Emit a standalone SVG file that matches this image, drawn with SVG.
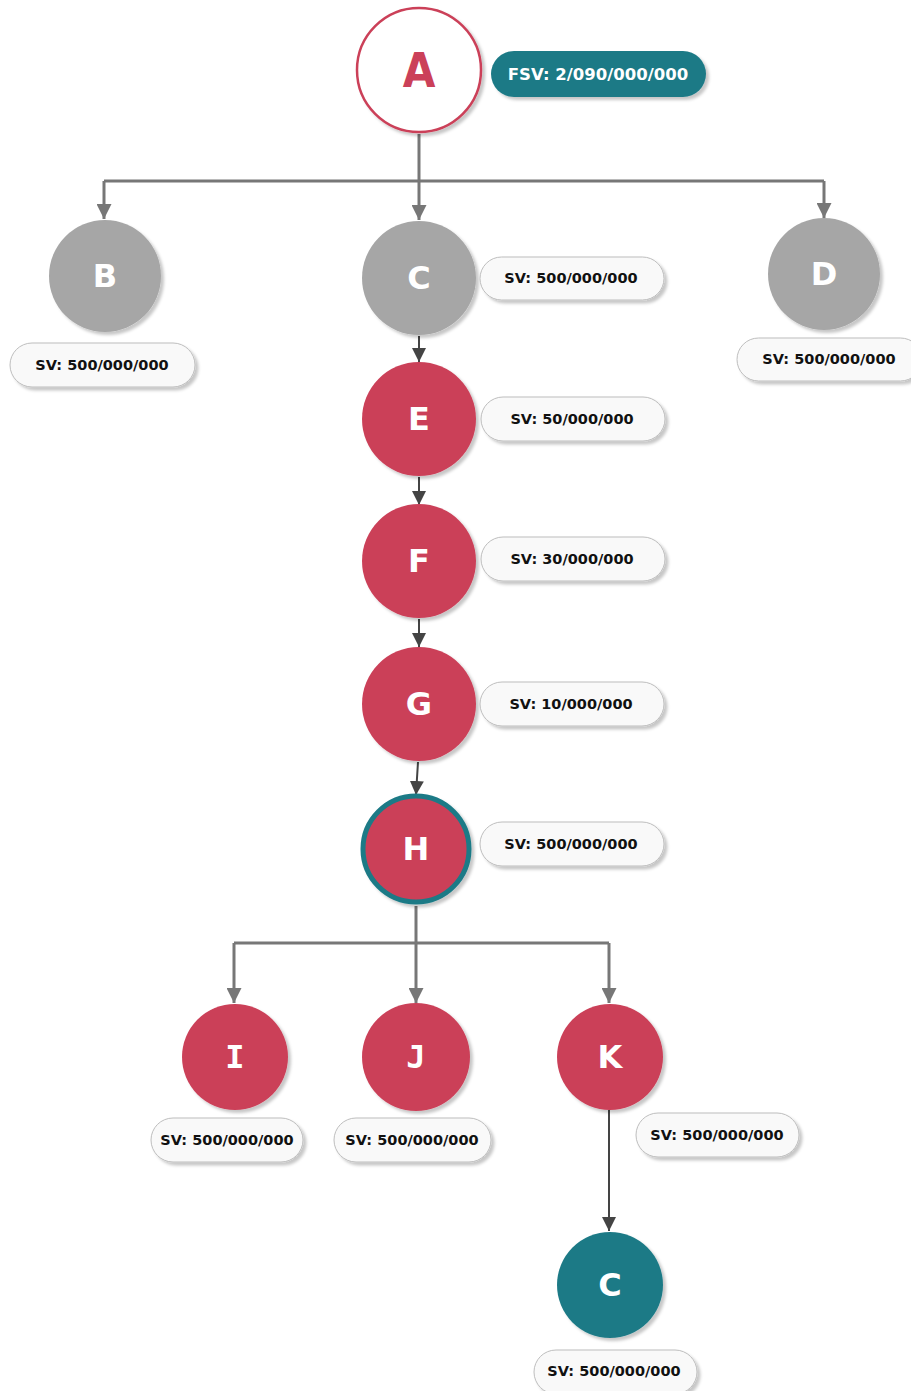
<svg xmlns="http://www.w3.org/2000/svg" width="911" height="1391" viewBox="0 0 911 1391">
  <defs>
    <filter id="shadow" x="-20%" y="-20%" width="150%" height="150%">
      <feDropShadow dx="3" dy="3" stdDeviation="1.5" flood-color="#000" flood-opacity="0.22"/>
    </filter>
    <marker id="arrGray" viewBox="0 0 10 10" refX="10" refY="5" markerWidth="5" markerHeight="5" markerUnits="strokeWidth" orient="auto">
      <path d="M0,0 L10,5 L0,10 z" fill="#777"/>
    </marker>
    <marker id="arrDark" viewBox="0 0 10 10" refX="10" refY="5" markerWidth="7" markerHeight="7" markerUnits="strokeWidth" orient="auto">
      <path d="M0,0 L10,5 L0,10 z" fill="#444"/>
    </marker>
  </defs>
  <style>
    .grey { fill: #a6a6a6; filter: url(#shadow); }
    .red { fill: #cb4059; filter: url(#shadow); }
    .teal { fill: #1d7a86; filter: url(#shadow); }
    .letter { font-family: "DejaVu Sans", Verdana, sans-serif; font-weight: bold; font-size: 32px; fill: #fff; text-anchor: middle; dominant-baseline: central; }
    .slab { font-family: "DejaVu Sans Mono", monospace; }
    .pill { fill: #f9f9f9; stroke: #bdbdbd; stroke-width: 1; filter: url(#shadow); }
    .sv { font-family: "DejaVu Sans", Verdana, sans-serif; font-weight: bold; font-size: 14.5px; fill: #111; text-anchor: middle; dominant-baseline: central; }
    .tree { fill: none; stroke: #777; stroke-width: 3; }
    .chain { fill: none; stroke: #444; stroke-width: 2; }
  </style>

  <g id="connectors">
    <!-- A fan-out -->
    <path class="tree" d="M419,134 V181"/>
    <path class="tree" d="M104,181 H824"/>
    <path class="tree" d="M104,181 V219" marker-end="url(#arrGray)"/>
    <path class="tree" d="M419,181 V220" marker-end="url(#arrGray)"/>
    <path class="tree" d="M824,181 V218" marker-end="url(#arrGray)"/>
    <!-- vertical chain -->
    <path class="chain" d="M419,336 V362" marker-end="url(#arrDark)"/>
    <path class="chain" d="M419,477 V505" marker-end="url(#arrDark)"/>
    <path class="chain" d="M419,619 V647" marker-end="url(#arrDark)"/>
    <path class="chain" d="M418,762 L416,795" marker-end="url(#arrDark)"/>
    <!-- H fan-out -->
    <path class="tree" d="M416,906 V943"/>
    <path class="tree" d="M234,943 H609"/>
    <path class="tree" d="M234,943 V1003" marker-end="url(#arrGray)"/>
    <path class="tree" d="M416,943 V1003" marker-end="url(#arrGray)"/>
    <path class="tree" d="M609,943 V1003" marker-end="url(#arrGray)"/>
    <!-- K to C -->
    <path class="chain" d="M609,1110 V1231" marker-end="url(#arrDark)"/>
  </g>

  <g id="node-A">
    <circle cx="419" cy="70" r="62" fill="#fff" stroke="#cb4059" stroke-width="2.5" filter="url(#shadow)"/>
    <text x="419" y="71" font-family="DejaVu Sans, Verdana, sans-serif" font-weight="bold" font-size="48" fill="#cb4059" text-anchor="middle" dominant-baseline="central" transform="translate(419 0) scale(0.88 1) translate(-419 0)">A</text>
    <rect x="491" y="51" width="215" height="46" rx="23" fill="#1d7a86" filter="url(#shadow)"/>
    <text x="598" y="74" font-family="DejaVu Sans, Verdana, sans-serif" font-weight="bold" font-size="16.5" fill="#fff" text-anchor="middle" dominant-baseline="central">FSV: 2/090/000/000</text>
  </g>

  <g id="node-B">
    <circle class="grey" cx="105" cy="276" r="56"/>
    <text class="letter" x="105" y="276">B</text>
    <rect class="pill" x="10" y="343" width="185" height="44" rx="22"/>
    <text class="sv" x="102" y="365">SV: 500/000/000</text>
  </g>

  <g id="node-C">
    <circle class="grey" cx="419" cy="278" r="57"/>
    <text class="letter" x="419" y="278">C</text>
    <rect class="pill" x="480" y="257" width="184" height="43" rx="21.5"/>
    <text class="sv" x="571" y="278">SV: 500/000/000</text>
  </g>

  <g id="node-D">
    <circle class="grey" cx="824" cy="274" r="56"/>
    <text class="letter" x="824" y="274">D</text>
    <rect class="pill" x="737" y="338" width="185" height="43" rx="21.5"/>
    <text class="sv" x="829" y="359">SV: 500/000/000</text>
  </g>

  <g id="node-E">
    <circle class="red" cx="419" cy="419" r="57"/>
    <text class="letter" x="419" y="419">E</text>
    <rect class="pill" x="481" y="397" width="184" height="44" rx="22"/>
    <text class="sv" x="572" y="419">SV: 50/000/000</text>
  </g>

  <g id="node-F">
    <circle class="red" cx="419" cy="561" r="57"/>
    <text class="letter" x="419" y="561">F</text>
    <rect class="pill" x="481" y="537" width="184" height="44" rx="22"/>
    <text class="sv" x="572" y="559">SV: 30/000/000</text>
  </g>

  <g id="node-G">
    <circle class="red" cx="419" cy="704" r="57"/>
    <text class="letter" x="419" y="704">G</text>
    <rect class="pill" x="480" y="682" width="184" height="44" rx="22"/>
    <text class="sv" x="571" y="704">SV: 10/000/000</text>
  </g>

  <g id="node-H">
    <circle cx="416" cy="849" r="53" fill="#cb4059" stroke="#1d7a86" stroke-width="5" filter="url(#shadow)"/>
    <text class="letter" x="416" y="849">H</text>
    <rect class="pill" x="480" y="822" width="184" height="44" rx="22"/>
    <text class="sv" x="571" y="844">SV: 500/000/000</text>
  </g>

  <g id="node-I">
    <circle class="red" cx="235" cy="1057" r="53"/>
    <text class="letter slab" x="235" y="1057">I</text>
    <rect class="pill" x="151" y="1118" width="152" height="44" rx="22"/>
    <text class="sv" x="227" y="1140">SV: 500/000/000</text>
  </g>

  <g id="node-J">
    <circle class="red" cx="416" cy="1057" r="54"/>
    <text class="letter slab" x="416" y="1057">J</text>
    <rect class="pill" x="334" y="1118" width="157" height="44" rx="22"/>
    <text class="sv" x="412" y="1140">SV: 500/000/000</text>
  </g>

  <g id="node-K">
    <circle class="red" cx="610" cy="1057" r="53"/>
    <text class="letter" x="610" y="1057">K</text>
    <rect class="pill" x="636" y="1113" width="163" height="44" rx="22"/>
    <text class="sv" x="717" y="1135">SV: 500/000/000</text>
  </g>

  <g id="node-C2">
    <circle class="teal" cx="610" cy="1285" r="53"/>
    <text class="letter" x="610" y="1285">C</text>
    <rect class="pill" x="534" y="1350" width="163" height="44" rx="22"/>
    <text class="sv" x="614" y="1371">SV: 500/000/000</text>
  </g>
</svg>
